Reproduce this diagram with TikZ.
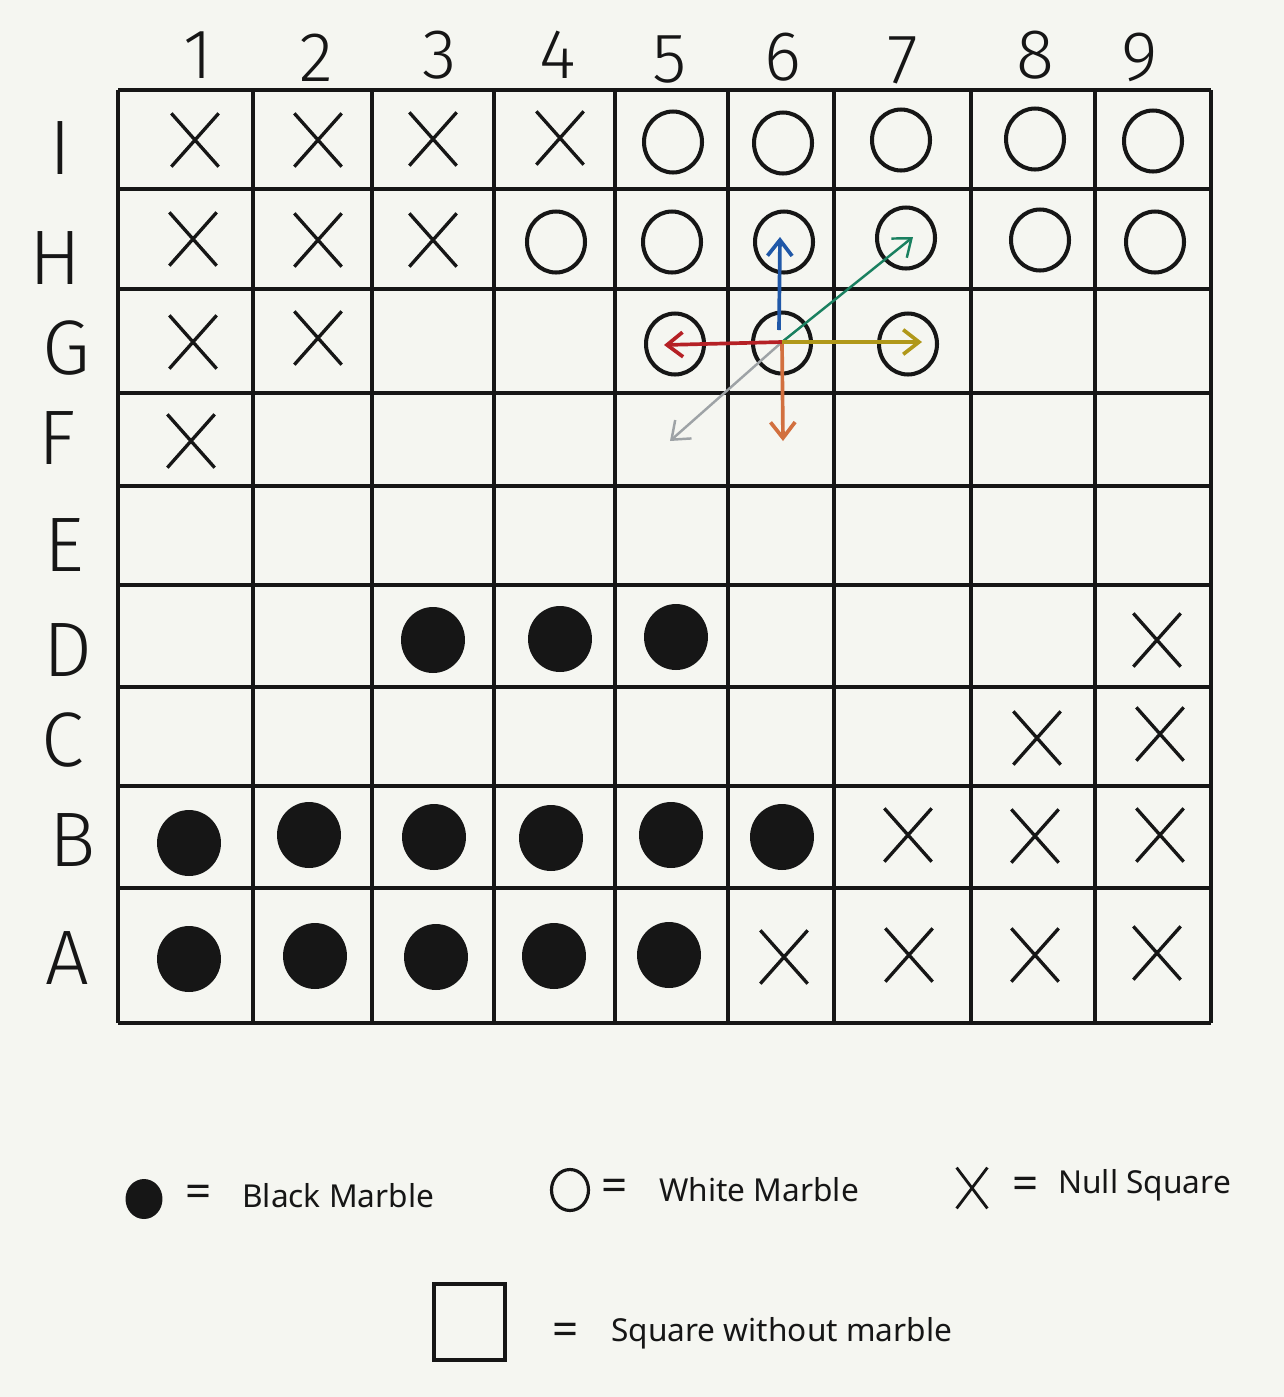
\documentclass[tikz,border=0pt]{standalone}
\usepackage{fontspec}
\setmainfont{Noto Sans}
\newfontfamily\handfont{Fira Sans Light}
\usetikzlibrary{arrows.meta,shapes.misc,shapes.geometric}
\definecolor{bg}{HTML}{F5F6F1}
\definecolor{ink}{HTML}{161616}
\definecolor{mblue}{HTML}{2058A8}
\definecolor{mgreen}{HTML}{1A8060}
\definecolor{molive}{HTML}{B0981A}
\definecolor{mred}{HTML}{B52025}
\definecolor{morange}{HTML}{D2703F}
\definecolor{mgray}{HTML}{9EA3A6}
\tikzset{
  gridline/.style={draw=ink, line width=1.9pt},
  wm/.style={ellipse, draw=ink, line width=2.3pt, minimum width=1.16cm, minimum height=1.22cm, inner sep=0pt},
  bm/.style={ellipse, fill=ink, minimum width=1.28cm, minimum height=1.32cm, inner sep=0pt},
  nul/.style={cross out, draw=ink, line width=1.9pt, minimum width=0.88cm, minimum height=1.0cm, inner sep=0pt},
  collab/.style={font=\handfont\fontsize{40}{40}\selectfont, text=ink},
  rowlab/.style={font=\handfont\fontsize{44}{44}\selectfont, text=ink},
  legtext/.style={font=\fontsize{18}{20}\selectfont, text=ink, anchor=west, inner sep=0pt},
  eqs/.style={font=\fontsize{26}{26}\selectfont, text=ink, inner sep=0pt},
  mv/.style={line width=2.1pt, -{Straight Barb[length=9pt,width=14pt]}},
  mvthin/.style={line width=1.4pt, -{Straight Barb[length=9pt,width=14pt]}},
}
\begin{document}
\begin{tikzpicture}[x=0.02cm,y=-0.02cm]
\fill[bg] (0,0) rectangle (1284,1397);
\useasboundingbox (0,0) rectangle (1284,1397);

% grid
\foreach \x in {118,253,372,494,615,728,834,971,1095,1211}
  \draw[gridline] (\x,90) -- (\x,1023);
\foreach \y in {90,189,289,393,486,585,687,786,888,1023}
  \draw[gridline] (118,\y) -- (1211,\y);

% column labels
\node[collab] (c1) at (198,55) {1};
\node[collab] (c2) at (316,58) {2};
\node[collab] (c3) at (440,55) {3};
\node[collab] (c4) at (558,55) {4};
\node[collab] (c5) at (670,60) {5};
\node[collab] (c6) at (783,57) {6};
\node[collab] (c7) at (903,60) {7};
\node[collab] (c8) at (1035,55) {8};
\node[collab] (c9) at (1140,57) {9};

% row labels
\node[rowlab] (rI) at (60,148) {I};
\node[rowlab] (rH) at (55,258) {H};
\node[rowlab] (rG) at (66,348) {G};
\node[rowlab] (rF) at (57,438) {F};
\node[rowlab] (rE) at (64,545) {E};
\node[rowlab] (rD) at (68,650) {D};
\node[rowlab] (rC) at (63,740) {C};
\node[rowlab] (rB) at (73,840) {B};
\node[rowlab] (rA) at (67,958) {A};

% row I
\node[nul] (I1) at (195,140) {};
\node[nul] (I2) at (318,140) {};
\node[nul] (I3) at (433,139) {};
\node[nul] (I4) at (560,138) {};
\node[wm] (I5) at (673,142) {};
\node[wm] (I6) at (783,143) {};
\node[wm] (I7) at (901,140) {};
\node[wm] (I8) at (1035,139) {};
\node[wm] (I9) at (1153,141) {};
% row H
\node[nul] (H1) at (193,239) {};
\node[nul] (H2) at (318,240) {};
\node[nul] (H3) at (433,240) {};
\node[wm] (H4) at (556,242) {};
\node[wm] (H5) at (672,242) {};
\node[wm] (H6) at (784,242) {};
\node[wm] (H7) at (906,238) {};
\node[wm] (H8) at (1040,240) {};
\node[wm] (H9) at (1155,242) {};
% row G
\node[nul] (G1) at (193,342) {};
\node[nul] (G2) at (318,338) {};
\node[wm] (G5) at (675,344) {};
\node[wm] (G6) at (782,343) {};
\node[wm] (G7) at (908,344) {};
% row F
\node[nul] (F1) at (191,441) {};
% row D
\node[bm] (D3) at (433,640) {};
\node[bm] (D4) at (560,639) {};
\node[bm] (D5) at (676,637) {};
\node[nul] (D9) at (1157,640) {};
% row C
\node[nul] (C8) at (1037,738) {};
\node[nul] (C9) at (1160,734) {};
% row B
\node[bm] (B1) at (189,843) {};
\node[bm] (B2) at (309,835) {};
\node[bm] (B3) at (434,837) {};
\node[bm] (B4) at (551,838) {};
\node[bm] (B5) at (671,835) {};
\node[bm] (B6) at (782,837) {};
\node[nul] (B7) at (908,835) {};
\node[nul] (B8) at (1035,836) {};
\node[nul] (B9) at (1160,835) {};
% row A
\node[bm] (A1) at (189,959) {};
\node[bm] (A2) at (315,956) {};
\node[bm] (A3) at (436,957) {};
\node[bm] (A4) at (554,956) {};
\node[bm] (A5) at (669,955) {};
\node[nul] (A6) at (784,957) {};
\node[nul] (A7) at (909,955) {};
\node[nul] (A8) at (1035,955) {};
\node[nul] (A9) at (1157,953) {};

% move arrows
\coordinate (o) at (782,342);
\coordinate (ob) at (779,330);
\coordinate (tU) at (780,237);
\coordinate (tUR) at (913,237);
\coordinate (tR) at (922,342);
\coordinate (tL) at (664,345);
\coordinate (tD) at (783,441);
\coordinate (tDL) at (670,441);
\draw[mvthin, mgray] (o) -- (tDL);
\draw[mvthin, mgreen] (o) -- (tUR);
\draw[mv, mblue] (ob) -- (tU);
\draw[mv, morange] (o) -- (tD);
\draw[mv, mred] (o) -- (tL);
\draw[mv, molive] (o) -- (tR);

% legend
\node[ellipse, fill=ink, minimum width=0.74cm, minimum height=0.8cm, inner sep=0pt] (lb) at (144,1199) {};
\node[eqs] (lbe) at (199,1196) {=};
\node[legtext] (lbt) at (242,1196) {Black Marble};

\node[ellipse, draw=ink, line width=1.8pt, minimum width=0.74cm, minimum height=0.82cm, inner sep=0pt] (lw) at (570,1190) {};
\node[eqs] (lwe) at (615,1190) {=};
\node[legtext] (lwt) at (659,1190) {White Marble};

\node[cross out, draw=ink, line width=1.6pt, minimum width=0.56cm, minimum height=0.76cm, inner sep=0pt] (lx) at (972,1188) {};
\node[eqs] (lxe) at (1026,1188) {=};
\node[legtext] (lxt) at (1058,1185) {Null Square};

\node[rectangle, draw=ink, line width=2pt, minimum width=1.42cm, minimum height=1.52cm, inner sep=0pt] (ls) at (469.5,1322) {};
\node[eqs] (lse) at (566,1334) {=};
\node[legtext] (lst) at (611,1333) {Square without marble};
\end{tikzpicture}
\end{document}
